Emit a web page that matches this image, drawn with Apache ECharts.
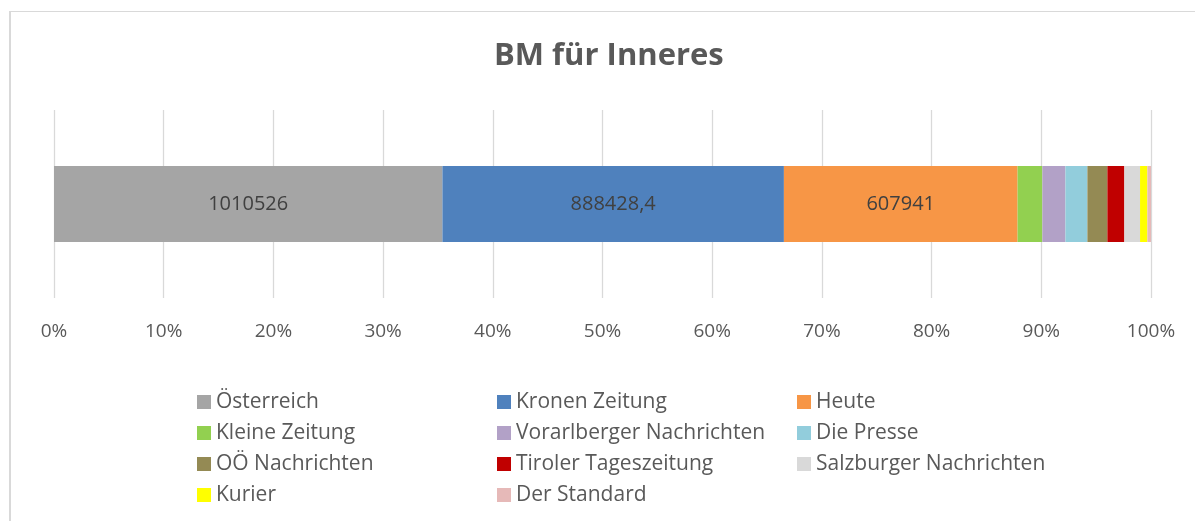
<!DOCTYPE html>
<html>
<head>
<meta charset="utf-8">
<script src="https://cdn.jsdelivr.net/npm/echarts@6/dist/echarts.min.js"></script>
<style>
  html, body { margin: 0; padding: 0; background: #fff; overflow: hidden; }
  #frame { position: absolute; left: 9px; top: 11px; width: 1300px; height: 600px;
           border-left: 2px solid #d9d9d9; border-top: 1px solid #d9d9d9; }
  #main { position: absolute; left: 0; top: 0; width: 1195px; height: 521px; }
</style>
</head>
<body>
<div id="frame"></div>
<div id="main"></div>
<script>
// Werte je Zeitung (Balken wird auf 100 % normiert)
const papers = ["Österreich", "Kronen Zeitung", "Heute", "Kleine Zeitung", "Vorarlberger Nachrichten",
    "Die Presse", "OÖ Nachrichten", "Tiroler Tageszeitung", "Salzburger Nachrichten", "Kurier", "Der Standard"];
const values = [1010526, 888428.4, 607941, 64500, 60000, 57100, 52000, 44200, 40800, 19100, 9400];
const colors = ["#a5a5a5", "#4f81bd", "#f79646", "#92d050", "#b2a1c7", "#92cddc",
    "#948a54", "#c00000", "#d9d9d9", "#ffff00", "#e6b9b8"];
const showLabel = [true, true, true, false, false, false, false, false, false, false, false];
const ticks = [0, 10, 20, 30, 40, 50, 60, 70, 80, 90, 100];

const total = values.reduce((a, b) => a + b, 0);
const font = "'Open Sans', 'Noto Sans', sans-serif";

const series = papers.map((name, i) => ({
    name: name,
    type: "bar",
    stack: "all",
    barWidth: 76,
    itemStyle: { color: colors[i] },
    label: {
        show: showLabel[i],
        position: "inside",
        color: "#404040",
        fontFamily: font,
        fontSize: 20,
        formatter: () => String(values[i]).replace(".", ","),
    },
    data: [values[i] / total * 100],
}));

const legendCol = (left, names) => ({
    orient: "vertical",
    left: left,
    top: 386,
    itemWidth: 14,
    itemHeight: 14,
    itemGap: 9,
    icon: "rect",
    textStyle: { fontFamily: font, fontSize: 21, color: "#595959", lineHeight: 22 },
    data: names,
});

const chart = echarts.init(document.getElementById("main"));
chart.setOption({
    animation: false,
    title: {
        text: "BM für Inneres",
        left: 489,
        top: 36,
        textStyle: { fontFamily: font, fontSize: 31, fontWeight: "bold", color: "#595959" },
    },
    grid: { left: 54, right: 44, top: 110, height: 188 },
    xAxis: {
        type: "value",
        min: 0,
        max: 100,
        interval: 10,
        axisLine: { show: false },
        axisTick: { show: false },
        splitLine: { lineStyle: { color: "#d9d9d9", width: 1.3 } },
        axisLabel: { formatter: "{value}%", margin: 24, color: "#595959", fontFamily: font, fontSize: 19 },
    },
    yAxis: {
        type: "category",
        data: [""],
        axisLine: { show: false },
        axisTick: { show: false },
        axisLabel: { show: false },
    },
    legend: [
        legendCol(192, [papers[0], papers[3], papers[6], papers[9]]),
        legendCol(492, [papers[1], papers[4], papers[7], papers[10]]),
        legendCol(792, [papers[2], papers[5], papers[8]]),
    ],
    series: series,
});
</script>
</body>
</html>
